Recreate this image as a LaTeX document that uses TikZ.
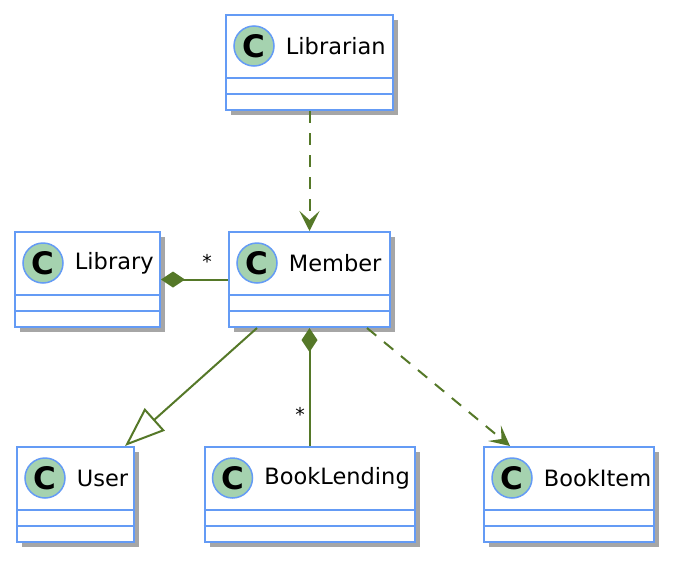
\documentclass[tikz,border=0pt]{standalone}
\usepackage{fontspec}
\setmainfont{DejaVu Sans}
\usetikzlibrary{arrows.meta,shadows}

\definecolor{classborder}{RGB}{100,155,245}
\definecolor{spotfill}{RGB}{165,210,175}
\definecolor{linkgreen}{RGB}{85,120,40}

\tikzset{
	classbox/.style={draw=classborder, line width=2pt, fill=white, inner sep=0pt,
		minimum height=95pt, anchor=north west,
		drop shadow={shadow xshift=5pt, shadow yshift=-5pt, fill=black!50, opacity=.7}},
	sepline/.style={draw=classborder, line width=2pt},
	spot/.style={circle, draw=classborder, line width=1.5pt, fill=spotfill,
		minimum size=40pt, inner sep=0pt, font=\fontsize{31}{31}\selectfont\bfseries},
	classname/.style={anchor=west, inner sep=0pt, font=\fontsize{22.5}{26}\selectfont},
	link/.style={draw=linkgreen, line width=2pt},
	dep/.style={link, dash pattern=on 12pt off 10pt, -{Stealth[length=20pt,width=20pt,inset=9pt]}},
	gen/.style={link, -{Triangle[open, length=40pt, width=30pt, fill=white]}},
	comp/.style={link, {Diamond[length=24pt, width=16pt]}-},
	mult/.style={font=\fontsize{19}{19}\selectfont, inner sep=0pt}
}

% name, left, top, width, text
\newcommand{\umlclass}[5]{%
	\node[classbox, minimum width=#4] (#1) at (#2,#3) {};
	\draw[sepline] ([yshift=-64pt]#1.north west) -- ([yshift=-64pt]#1.north east);
	\draw[sepline] ([yshift=-80pt]#1.north west) -- ([yshift=-80pt]#1.north east);
	\node[spot] (#1C) at ([xshift=29pt,yshift=-32pt]#1.north west) {C};
	\node[classname] (#1Name) at ([xshift=11pt]#1C.east) {#5};
}

\begin{document}
\begin{tikzpicture}[x=1pt,y=-1pt]
	\useasboundingbox (0,0) rectangle (678,568);
	
	% Draw classes
	\umlclass{Librarian}{225}{14}{167pt}{Librarian}
	\umlclass{Library}{14}{231}{145pt}{Library}
	\umlclass{Member}{228}{231}{161pt}{Member}
	\umlclass{User}{16}{446}{117pt}{User}
	\umlclass{BookLending}{203.5}{446}{210pt}{BookLending}
	\umlclass{BookItem}{483}{446}{170pt}{BookItem}
	
	% Draw relations
	\draw[dep] (Librarian) -- (Member);
	\draw[comp] (Library) -- (Member);
	\draw[comp] (Member) -- (BookLending);
	\draw[gen] ([xshift=29pt]Member.south west) -- ([xshift=-10pt]User.north east);
	\draw[dep] ([xshift=-24pt]Member.south east) -- ([xshift=27pt]BookItem.north west);
	
	% Multiplicities
	\node[mult] (LibraryStar) at (207,261) {*};
	\node[mult] (LendingStar) at (300,414) {*};
	
\end{tikzpicture}
\end{document}
